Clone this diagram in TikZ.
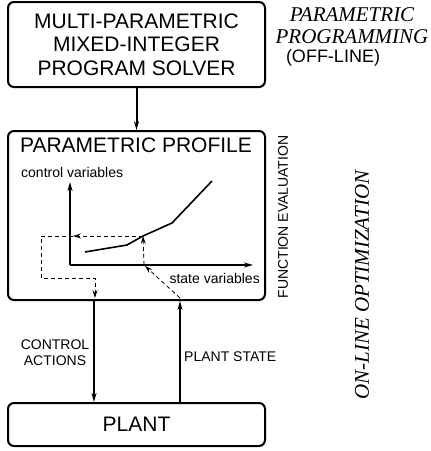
\documentclass[tikz,border=0pt]{standalone}
\usepackage{fontspec}
\setmainfont{Liberation Serif}
\setsansfont{Liberation Sans}
\usetikzlibrary{arrows.meta, positioning}

\begin{document}
\begin{tikzpicture}[
  x=1pt, y=-1pt,
  box/.style={rectangle, rounded corners=6pt, draw=black, line width=2pt, minimum width=257pt, font=\sffamily\fontsize{21}{23.5}\selectfont, align=center, inner sep=0pt},
  big/.style={font=\sffamily\fontsize{21}{23.5}\selectfont, inner sep=0pt},
  lbl/.style={font=\sffamily\fontsize{14}{16}\selectfont, inner sep=0pt, align=center},
  arr/.style={-{Stealth[length=9pt, width=5pt, inset=3pt]}, line width=2pt},
  axis/.style={-{Stealth[length=9pt, width=5pt, inset=3pt]}, line width=1.6pt},
  dsh/.style={-{Stealth[length=8pt, width=5pt, inset=3pt]}, line width=0.8pt, dash pattern=on 4pt off 3pt}
]
\useasboundingbox (0,0) rectangle (431,451);
\node[box, minimum height=85pt] (n1) at (136.5,44.5) {MULTI-PARAMETRIC\\MIXED-INTEGER\\PROGRAM SOLVER};
\node[box, minimum height=169pt] (n2) at (136.5,215.5) {};
\node[box, minimum height=43pt] (n3) at (136.5,424.5) {PLANT};
\node[big] (prof) at (136,145) {PARAMETRIC PROFILE};
\node[lbl, anchor=west] (cv) at (21,172) {control variables};
\node[lbl, anchor=east] (sv) at (260,278) {state variables};
\node[lbl] (ca) at (55,353) {CONTROL\\ACTIONS};
\node[lbl, anchor=west] (ps) at (184,357) {PLANT STATE};
\node[lbl, rotate=90] (fe) at (283,217) {FUNCTION EVALUATION};
\node[font=\itshape\fontsize{21}{23}\selectfont, rotate=90, inner sep=0pt] (olo) at (362,285) {ON-LINE OPTIMIZATION};
\node[font=\itshape\fontsize{21}{22}\selectfont, align=center, inner sep=0pt] (pp) at (352,26) {PARAMETRIC\\PROGRAMMING};
\node[font=\sffamily\fontsize{18}{20}\selectfont, inner sep=0pt] (off) at (333,58) {(OFF-LINE)};
\coordinate (o) at (70,265);
\coordinate (p) at (143,236);
\coordinate (xc) at (94,0);
\coordinate (xs) at (180,0);
\draw[arr] (n1) -- (n2);
\draw[axis] (o) -- (70,182);
\draw[axis] (o) -- (253,265);
\draw[line width=1.6pt] (85,252) -- (127,245) -- (p) -- (172,223) -- (212,181);
\draw[dsh] (p) -- (73,236);
\draw[dsh] (73,236) -- (41,236) |- (95,278) -- (95,298);
\draw[dsh] (180,298) -- (145,266);
\draw[dsh] (144,265) -- (p);
\draw[arr] (n2.south -| xc) -- (n3.north -| xc);
\draw[arr] (n3.north -| xs) -- (n2.south -| xs);
\end{tikzpicture}
\end{document}
